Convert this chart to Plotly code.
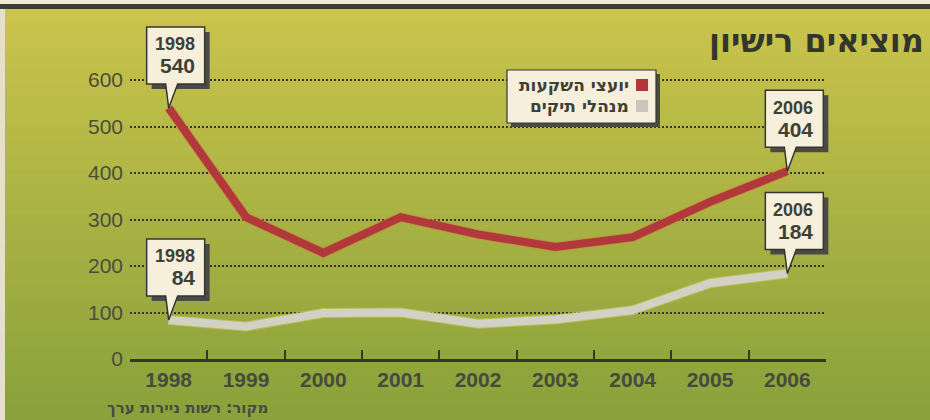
import plotly.graph_objects as go

# ---------------- data ----------------
years = ['1998', '1999', '2000', '2001', '2002', '2003', '2004', '2005', '2006']
advisers = [540, 305, 228, 305, 268, 241, 262, 338, 404]   # יועצי השקעות
managers = [84, 70, 99, 100, 76, 85, 105, 163, 184]        # מנהלי תיקים
y_ticks = [0, 100, 200, 300, 400, 500, 600]
title_text = 'מוציאים רישיון'
legend_names = ['יועצי השקעות', 'מנהלי תיקים']
source_text = 'מקור: רשות ניירות ערך'

# ---------------- styles ----------------
RED = '#b1393c'
GRAY = '#d2d1c6'
INK = '#3d4035'
CREAM = '#f6efdc'
W, H = 930, 420
L, R, T, B = 130, 104, 20, 61
PW, PH = W - L - R, H - T - B

def px_x(px):
    return (px - L) / PW

def px_y(py):
    return (H - B - py) / PH

fig = go.Figure()

# background gradient bands (paper)
shapes = []
top_c = (202, 196, 76)
bot_c = (138, 162, 60)
n = 28
for i in range(n):
    t = i / (n - 1)
    c = tuple(int(top_c[k] + (bot_c[k] - top_c[k]) * t) for k in range(3))
    y0 = 8 + (H - 8) * i / n
    y1 = 8 + (H - 8) * (i + 1) / n + 1
    shapes.append(dict(type='rect', xref='paper', yref='paper', layer='below',
                       x0=px_x(0), x1=px_x(W), y0=px_y(y1), y1=px_y(y0),
                       line=dict(width=0), fillcolor='rgb(%d,%d,%d)' % c))
# top cream strip and dark rule
shapes.append(dict(type='rect', xref='paper', yref='paper', layer='below',
                   x0=px_x(0), x1=px_x(W), y0=px_y(4), y1=px_y(0),
                   line=dict(width=0), fillcolor='#efe9d6'))
shapes.append(dict(type='rect', xref='paper', yref='paper', layer='below',
                   x0=px_x(0), x1=px_x(W), y0=px_y(9), y1=px_y(4),
                   line=dict(width=0), fillcolor='#3b3c33'))
# left light strip
shapes.append(dict(type='rect', xref='paper', yref='paper', layer='below',
                   x0=px_x(0), x1=px_x(5), y0=px_y(H), y1=px_y(9),
                   line=dict(width=0), fillcolor='#e6e0c6'))

# lines (glow + main)
fig.add_trace(go.Scatter(x=years, y=advisers, mode='lines',
                         line=dict(color='#d4803f', width=10), opacity=0.55,
                         hoverinfo='skip', showlegend=False))
fig.add_trace(go.Scatter(x=years, y=advisers, mode='lines', name=legend_names[0],
                         line=dict(color=RED, width=8), showlegend=False))
fig.add_trace(go.Scatter(x=years, y=managers, mode='lines',
                         line=dict(color='#d8c86a', width=10), opacity=0.6,
                         hoverinfo='skip', showlegend=False))
fig.add_trace(go.Scatter(x=years, y=managers, mode='lines', name=legend_names[1],
                         line=dict(color=GRAY, width=8), showlegend=False))

annotations = []

# callouts anchored to data points
callouts = [(0, advisers[0]), (8, advisers[8]), (0, managers[0]), (8, managers[8])]
bx0, bx1, by0, by1 = -22, 36, 24, 81
pl, pr = -3, 9
bubble = ('M {a},{b} L {pl},{b} L 0,0 L {pr},{b} L {c},{b} L {c},{d} L {a},{d} Z'
          .format(a=bx0, b=by0, c=bx1, d=by1, pl=pl, pr=pr))
shadow = ('M {a},{b} L {c},{b} L {c},{d} L {a},{d} Z'
          .format(a=bx0 + 5, b=by0 - 5, c=bx1 + 5, d=by1 - 5))
for idx, val in callouts:
    xa = (idx + 0.5) / len(years)
    shapes.append(dict(type='path', xref='paper', yref='y', xsizemode='pixel',
                       ysizemode='pixel', xanchor=xa, yanchor=val, path=shadow,
                       fillcolor='#4a4b44', line=dict(width=0), layer='above'))
    shapes.append(dict(type='path', xref='paper', yref='y', xsizemode='pixel',
                       ysizemode='pixel', xanchor=xa, yanchor=val, path=bubble,
                       fillcolor=CREAM, line=dict(color='#35362f', width=1.5),
                       layer='above'))
    annotations.append(dict(x=xa, y=val, xref='paper', yref='y', showarrow=False,
                            xanchor='right', yanchor='middle', align='right',
                            xshift=28, yshift=52,
                            text='<b>%s</b><br><b><span style="font-size:21px">%d</span></b>'
                                 % (years[idx], val),
                            font=dict(family='Liberation Sans', size=18, color=INK)))

# custom legend box
lx0, lx1, ly0, ly1 = 507, 656, 70, 123
shapes.append(dict(type='rect', xref='paper', yref='paper', layer='above',
                   x0=px_x(lx0 + 4), x1=px_x(lx1 + 4), y0=px_y(ly1 + 4), y1=px_y(ly0 + 4),
                   line=dict(width=0), fillcolor='#4a4b44'))
shapes.append(dict(type='rect', xref='paper', yref='paper', layer='above',
                   x0=px_x(lx0), x1=px_x(lx1), y0=px_y(ly1), y1=px_y(ly0),
                   line=dict(color='#35362f', width=1.2), fillcolor=CREAM))
for k, (name, col, cy) in enumerate([(legend_names[0], RED, 85), (legend_names[1], '#c9c7bd', 106)]):
    shapes.append(dict(type='rect', xref='paper', yref='paper', layer='above',
                       x0=px_x(636), x1=px_x(648), y0=px_y(cy + 6), y1=px_y(cy - 6),
                       line=dict(width=0), fillcolor=col))
    annotations.append(dict(x=px_x(631), y=px_y(cy), xref='paper', yref='paper',
                            showarrow=False, xanchor='right', yanchor='middle',
                            text='<b>%s</b>' % name,
                            font=dict(family='DejaVu Sans', size=17, color=INK)))

# title
annotations.append(dict(x=px_x(926), y=px_y(41), xref='paper', yref='paper',
                        showarrow=False, xanchor='right', yanchor='middle',
                        text='<b>%s</b>' % title_text,
                        font=dict(family='DejaVu Sans', size=32, color='#33362c')))
# source
annotations.append(dict(x=px_x(270), y=px_y(408), xref='paper', yref='paper',
                        showarrow=False, xanchor='right', yanchor='middle',
                        text='<b>%s</b>' % source_text,
                        font=dict(family='DejaVu Sans', size=15, color='#484b3e')))

fig.update_layout(
    width=W, height=H,
    margin=dict(l=L, r=R, t=T, b=B),
    paper_bgcolor='#b5b846', plot_bgcolor='rgba(0,0,0,0)',
    showlegend=False,
    shapes=shapes, annotations=annotations,
    xaxis=dict(type='category', range=[-0.5, len(years) - 0.5], tickson='boundaries',
               ticks='inside', ticklen=9, tickwidth=2, tickcolor='#35362f',
               showline=True, linecolor='#35362f', linewidth=2.5, showgrid=False,
               tickfont=dict(family='Liberation Sans', size=21, color='#474a3e', weight='bold'),
               fixedrange=True),
    yaxis=dict(range=[0, (H - B - T) / 0.465], tickvals=y_ticks, showline=False,
               zeroline=False, showgrid=True, gridcolor='#34352c', gridwidth=1.5,
               griddash='2px,2px', ticks='', ticklabelstandoff=6,
               tickfont=dict(family='Liberation Sans', size=21, color='#4a4e3c'),
               fixedrange=True),
)

fig.write_html('out.html', config={'displayModeBar': False},
               post_script="document.body.style.margin='0';document.body.style.overflow='hidden';")
